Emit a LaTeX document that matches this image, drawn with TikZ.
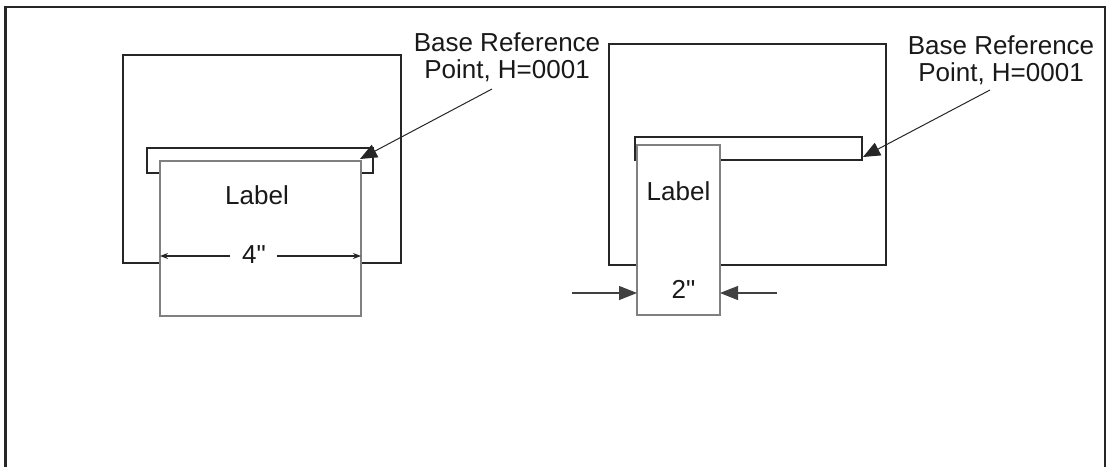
\documentclass[tikz,border=0pt]{standalone}
\usepackage{fontspec}
\setmainfont{Liberation Sans}[Ligatures=TeXOff]
\usetikzlibrary{arrows.meta}
\begin{document}
\begin{tikzpicture}[x=1pt,y=-1pt,
  frame/.style={draw=black!85, line width=2.7pt},
  heavybox/.style={draw=black!85, line width=2.7pt, rectangle, inner sep=0pt, outer sep=0pt, anchor=north west},
  labelrect/.style={draw=black!50, fill=white, line width=1.1pt, rectangle, inner sep=0pt, outer sep=0pt, anchor=north west},
  txt/.style={font=\fontsize{26}{27}\selectfont, inner sep=0pt, anchor=base, text=black!90},
  leader/.style={draw=black!85, line width=1pt, -{Triangle[length=17pt,width=14pt]}},
  dimthick/.style={draw=black!85, line width=2pt, -{Stealth[length=8pt,width=6pt]}},
  dimthin/.style={draw=black!75, line width=1.1pt, -{Triangle[length=18pt,width=14pt]}}
]
\useasboundingbox (0,0) rectangle (1107,466);
% frame (open at the bottom)
\draw[frame] (5.5,470) -- (5.5,7) -- (1105,7) -- (1105,470);

% ---------- left diagram ----------
\node[heavybox, minimum width=278pt, minimum height=208pt] (B1) at (123,55) {};
\node[heavybox, minimum width=226pt, minimum height=25pt] (S1) at (147,148) {};
\node[labelrect, minimum width=201pt, minimum height=155pt] (L1) at (160,161) {};
\node[txt] (T1) at (257,204) {Label};
\node[txt] (D1) at (254,263) {4"};
\coordinate (d1a) at (230,256);
\coordinate (d1b) at (277,256);
\draw[dimthick] (d1a) -- (L1.west |- d1a);
\draw[dimthick] (d1b) -- (L1.east |- d1b);
\node[txt] (R1a) at (507,51) {Base Reference};
\node[txt] (R1b) at (507,78) {Point, H=0001};
\coordinate (r1s) at (492,89);
\coordinate (r1t) at (360,159);
\draw[leader] (r1s) -- (r1t);

% ---------- right diagram ----------
\node[heavybox, minimum width=277pt, minimum height=221pt] (B2) at (609,44) {};
\node[heavybox, minimum width=227pt, minimum height=23pt] (S2) at (635,137) {};
\node[labelrect, minimum width=83pt, minimum height=170pt] (L2) at (637,145) {};
\node[txt] (T2) at (678.5,200) {Label};
\node[txt] (D2) at (683.5,298) {2"};
\coordinate (d2a) at (572,293);
\coordinate (d2b) at (777,293);
\draw[dimthin] (d2a) -- (L2.west |- d2a);
\draw[dimthin] (d2b) -- (L2.east |- d2b);
\node[txt] (R2a) at (1001,54) {Base Reference};
\node[txt] (R2b) at (1001,81) {Point, H=0001};
\coordinate (r2s) at (990,90);
\coordinate (r2t) at (863,157);
\draw[leader] (r2s) -- (r2t);
\end{tikzpicture}
\end{document}
